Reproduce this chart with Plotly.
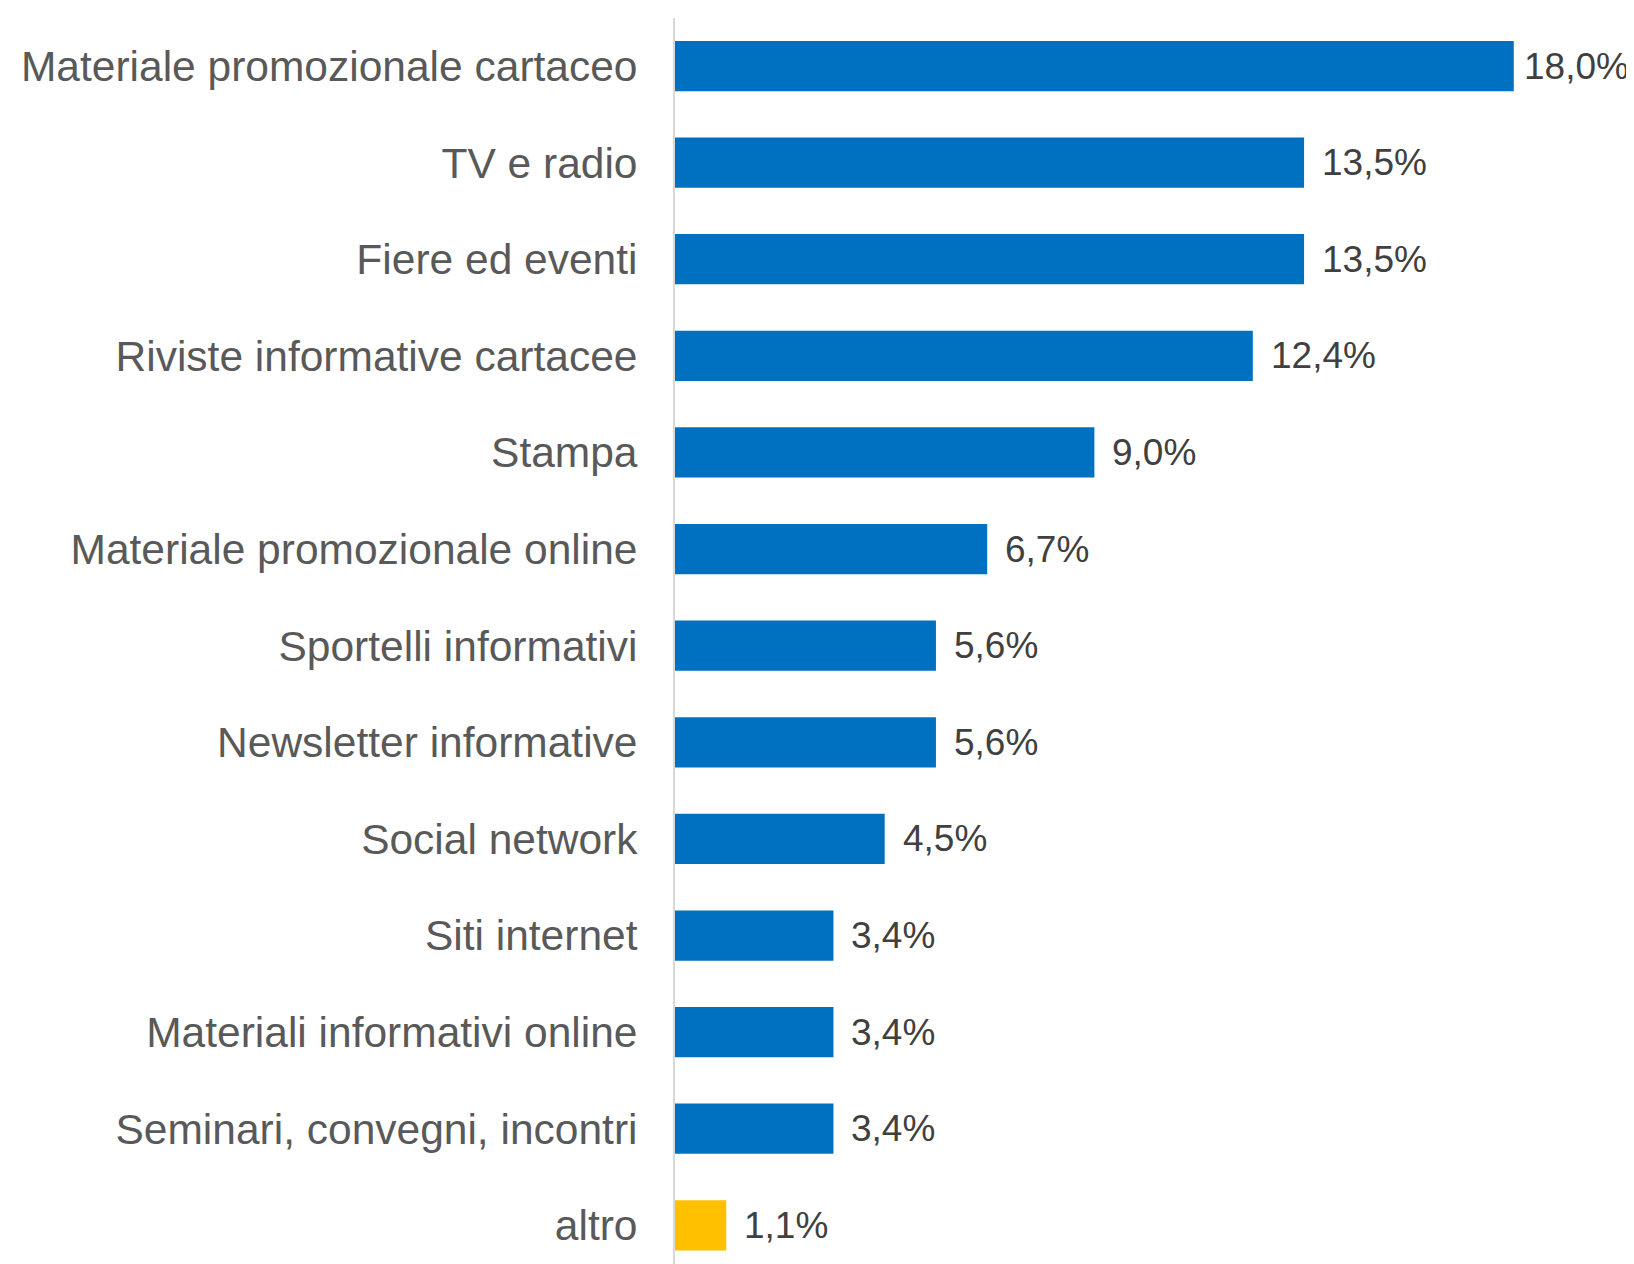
"""Horizontal bar chart: canali informativi (quota %)."""

import plotly.graph_objects as go

CATEGORIES = [
    "Materiale promozionale cartaceo",
    "TV e radio",
    "Fiere ed eventi",
    "Riviste informative cartacee",
    "Stampa",
    "Materiale promozionale online",
    "Sportelli informativi",
    "Newsletter informative",
    "Social network",
    "Siti internet",
    "Materiali informativi online",
    "Seminari, convegni, incontri",
    "altro",
]
SHARE_PCT = [18.0, 13.5, 13.5, 12.4, 9.0, 6.7, 5.6, 5.6, 4.5, 3.4, 3.4, 3.4, 1.1]

BLUE = "#0070C0"
YELLOW = "#FFC000"
FONT = "Liberation Sans, Arial, sans-serif"
# the page body has an 8px margin, so the figure is shifted by it
PAGE_PAD = 8

colors = [YELLOW if c == "altro" else BLUE for c in CATEGORIES]

fig = go.Figure(
    go.Bar(
        x=SHARE_PCT,
        y=CATEGORIES,
        orientation="h",
        marker=dict(color=colors, line=dict(width=0)),
        hoverinfo="skip",
    )
)

# value labels; the longest bar gets a tighter gap so its label fits
top = max(SHARE_PCT)
for cat, val in zip(CATEGORIES, SHARE_PCT):
    fig.add_annotation(
        x=val,
        y=cat,
        text=f"{val:.1f}%".replace(".", ","),
        showarrow=False,
        xanchor="left",
        yanchor="middle",
        xshift=8 if val == top else 16,
        font=dict(family=FONT, size=37, color="#404040"),
    )

fig.update_layout(
    width=1634 - PAGE_PAD,
    height=1264 - PAGE_PAD,
    margin=dict(l=675 - PAGE_PAD, r=0, t=18 - PAGE_PAD, b=0),
    paper_bgcolor="white",
    plot_bgcolor="white",
    bargap=0.48,
    showlegend=False,
    font=dict(family=FONT),
)
fig.update_xaxes(
    range=[0, 20.58],
    visible=False,
    showgrid=False,
    zeroline=False,
)
fig.update_yaxes(
    categoryorder="array",
    categoryarray=CATEGORIES,
    range=[12.40, -0.497],
    showline=True,
    linecolor="#D9D9D9",
    linewidth=2,
    showgrid=False,
    ticks="",
    ticklabelstandoff=27,
    tickfont=dict(family=FONT, size=42.5, color="#595959"),
)

fig.write_html("out.html")
